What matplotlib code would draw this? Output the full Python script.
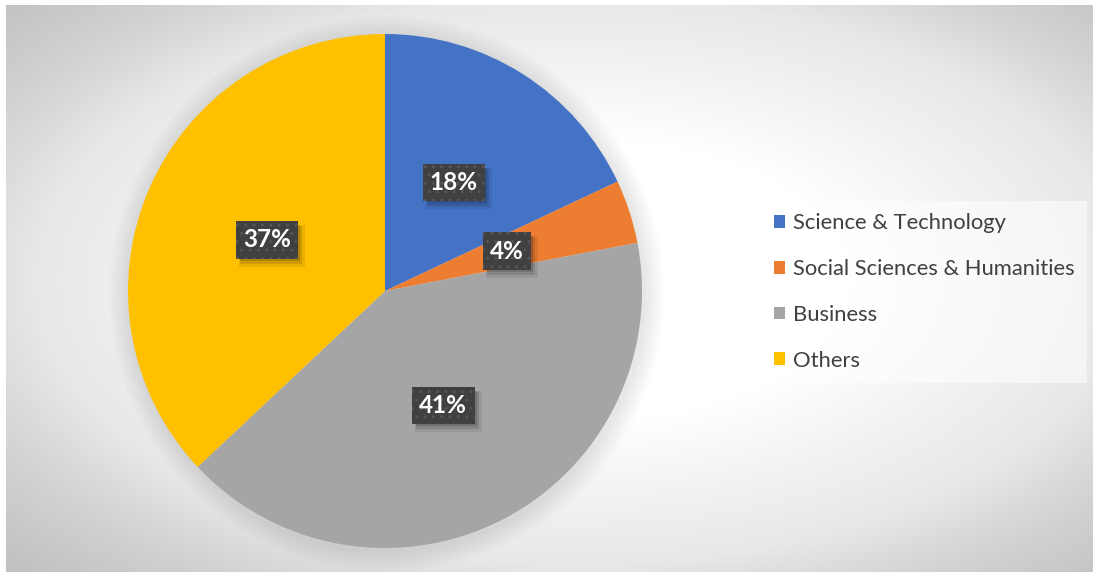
import numpy as np
import matplotlib
matplotlib.use("Agg")
import matplotlib.pyplot as plt
from matplotlib.patches import Patch, Circle, Rectangle
import matplotlib.transforms as mtransforms

categories = ["Science & Technology", "Social Sciences & Humanities", "Business", "Others"]
values = [18, 4, 41, 37]
colors = ["#4472C4", "#ED7D31", "#A5A5A5", "#FFC000"]

W, H = 1093, 572
fig = plt.figure(figsize=(W / 100, H / 100), dpi=100)
fig.patch.set_facecolor("white")

# background chart area with radial gradient
x0, y0 = 6, 5
bg = fig.add_axes([x0 / W, 0, (W - x0) / W, (H - y0) / H])
bg.set_axis_off()
xs = np.arange(x0, W)
ys = np.arange(y0, H)
X, Y = np.meshgrid(xs, ys)
cx, cy = 580, 280
D = np.hypot((X - cx) / 543.0, (Y - cy) / 283.0)
v = np.interp(D, [0, 0.5, 0.76, 1.0, 1.12, 1.23, 1.45], [1.0, 1.0, 0.95, 0.91, 0.86, 0.82, 0.76])
img = np.dstack([v, v, v])
bg.imshow(img, extent=(0, 1, 0, 1), aspect="auto", origin="upper")
bg.set_xlim(0, 1)
bg.set_ylim(0, 1)

# pie axes
pcx, pcy, R = 385, 291, 257
ax = fig.add_axes([(pcx - R) / W, (H - pcy - R) / H, 2 * R / W, 2 * R / H])
ax.set_axis_off()
# soft shadow around the pie
for i in range(8):
    ax.add_patch(Circle((0.006, -0.01), 1.0 + 0.01 * (i + 1), color="black",
                        alpha=0.012, lw=0, zorder=0, clip_on=False))
wedges, texts, autotexts = ax.pie(
    values, colors=colors, startangle=90, counterclock=False,
    autopct=lambda p: f"{p:.0f}%", pctdistance=0.5, radius=1.0,
    wedgeprops=dict(linewidth=0),
)
ax.set_xlim(-1, 1)
ax.set_ylim(-1, 1)
ax.set_aspect("equal")
for t in autotexts:
    t.set_color("white")
    t.set_fontsize(17.5)
    t.set_fontweight("bold")
    t.set_fontfamily("Lato")
    t.set_zorder(5)
    t.set_bbox(dict(boxstyle="square,pad=0.3", facecolor="#404040", edgecolor="#555555",
                    hatch="..", linewidth=0))

# soft drop shadows behind the label boxes (rectangles in display space)
fig.canvas.draw()
renderer = fig.canvas.get_renderer()
ident = mtransforms.IdentityTransform()
for t in autotexts:
    bb = t.get_bbox_patch().get_window_extent(renderer)
    for dx, dy, grow, a in [(5, -6, 2, 0.08), (4, -5, 0, 0.12), (3, -3, -1, 0.14)]:
        ax.add_artist(Rectangle((bb.x0 + dx - grow, bb.y0 + dy - grow),
                                bb.width + 2 * grow, bb.height + 2 * grow,
                                transform=ident, facecolor="black", alpha=a,
                                linewidth=0, zorder=4, clip_on=False))

handles = [Patch(facecolor=c, edgecolor="none") for c in colors]
leg = fig.legend(
    handles, categories, loc="center left",
    bbox_to_anchor=(762 / W, 1 - 292 / H), bbox_transform=fig.transFigure,
    frameon=True, fancybox=False, framealpha=0.55, facecolor="white", edgecolor="none",
    prop={"family": "Lato", "size": 15.8}, labelcolor="#404040",
    handlelength=0.5, handleheight=0.5, handletextpad=0.38, labelspacing=1.17,
    borderpad=0.55, borderaxespad=0,
)

fig.savefig("out.png", dpi=100)
